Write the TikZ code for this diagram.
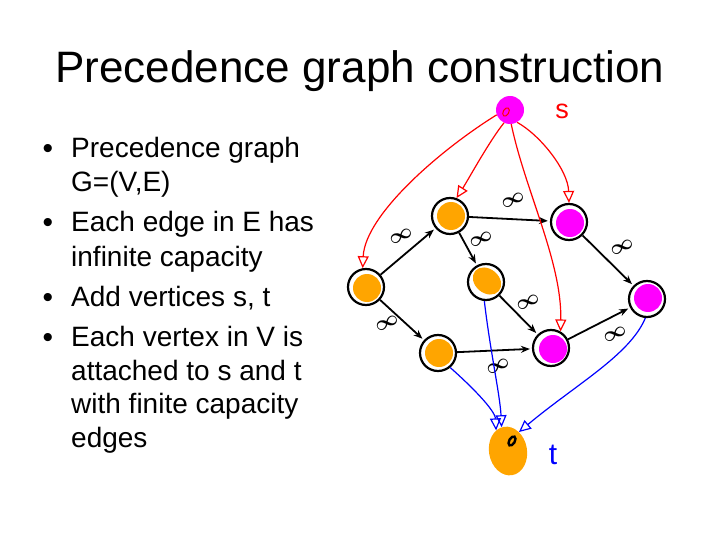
\documentclass[tikz,border=0pt]{standalone}
\usepackage{fontspec}
\setmainfont{Liberation Sans}
\usetikzlibrary{arrows.meta,shapes.geometric}
\definecolor{vorange}{RGB}{255,165,0}
\definecolor{vmag}{RGB}{255,0,255}
\definecolor{vred}{RGB}{255,0,0}
\definecolor{vblue}{RGB}{0,0,255}
\tikzset{
  vert/.style={circle,draw=black,line width=2.2pt,fill=white,minimum size=36pt,inner sep=0pt},
  blobo/.style={fill=vorange},
  blobm/.style={fill=vmag},
  edge/.style={line width=1.8pt,-{Stealth[length=9pt,width=7pt]},shorten >=2pt},
  inf/.style={font=\fontsize{21}{21}\selectfont\boldmath,inner sep=0pt,rotate=25},
  sarc/.style={vred,line width=1.2pt,-{Triangle[open,length=12pt,width=11pt,line width=1.2pt]}},
  tarc/.style={vblue,line width=1.2pt,-{Triangle[open,length=12pt,width=11pt,line width=1.2pt]}},
  bul/.style={anchor=base west,inner sep=0pt,font=\fontsize{28}{28}\selectfont},
  dot/.style={anchor=base,inner sep=0pt,font=\fontsize{30}{30}\selectfont}
}
\begin{document}
\begin{tikzpicture}[x=1pt,y=-1pt]
\useasboundingbox (0,0) rectangle (720,540);
\fill[white] (0,0) rectangle (720,540);
% title
\node[anchor=base,inner sep=0pt,font=\fontsize{44}{44}\selectfont] (title) at (360,83) {Precedence graph construction};
% bullets
\node[dot] (b1) at (48,159) {•};
\node[bul] (l1) at (71,158) {Precedence graph};
\node[bul] (l2) at (71,192) {G=(V,E)};
\node[dot] (b2) at (48,233) {•};
\node[bul] (l3) at (71,232) {Each edge in E has};
\node[bul] (l4) at (71,266) {infinite capacity};
\node[dot] (b3) at (48,307) {•};
\node[bul] (l5) at (71,306) {Add vertices s, t};
\node[dot] (b4) at (48,347) {•};
\node[bul] (l6) at (71,346) {Each vertex in V is};
\node[bul] (l7) at (71,380) {attached to s and t};
\node[bul] (l8) at (71,413) {with finite capacity};
\node[bul] (l9) at (71,447) {edges};
% vertices
\node[vert] (A) at (366,287) {};
\node[vert] (B) at (450,216) {};
\node[vert] (C) at (486,282) {};
\node[vert] (D) at (438,353) {};
\node[vert] (E) at (569,222) {};
\node[vert] (F) at (551,348) {};
\node[vert] (G) at (647,299) {};
\fill[blobo] (367,288) circle (14);
\fill[blobo] (451,216) circle (14);
\fill[blobo,rotate around={-40:(487,281)}] (487,281) ellipse (15.5 and 12);
\fill[blobo] (439,353) circle (14);
\fill[blobm] (570,223) circle (14);
\fill[blobm] (553,349) circle (14);
\fill[blobm] (648,298) circle (14);
% s and t blobs
\node[circle,fill=vmag,minimum size=28pt,inner sep=0pt] (s) at (510,110) {};
\node[ellipse,fill=vorange,minimum width=38pt,minimum height=49pt,inner sep=0pt,rotate=10] (t) at (508,451) {};
\draw[vred,line width=1pt,rotate around={60:(506,112)}] (506,112) ellipse (4.5 and 2.8);
\draw[black,line width=2.4pt,rotate around={60:(512,441)}] (512,441) ellipse (5 and 2.8);
% labels s, t
\node[vred,font=\fontsize{27}{27}\selectfont,inner sep=0pt] (slab) at (562,111) {s};
\node[vblue,font=\fontsize{30}{30}\selectfont,inner sep=0pt] (tlab) at (553,455) {t};
% black edges
\draw[edge] (A) -- (B);
\draw[edge] (B) -- (E);
\draw[edge] (B) -- (C);
\draw[edge] (E) -- (G);
\draw[edge] (A) -- (D);
\draw[edge] (D) -- (F);
\draw[edge] (C) -- (F);
\draw[edge] (F) -- (G);
% infinity labels
\node[inf] (i1) at (401,236) {$\infty$};
\node[inf] (i2) at (481,239) {$\infty$};
\node[inf] (i3) at (513,200) {$\infty$};
\node[inf] (i4) at (622,247) {$\infty$};
\node[inf] (i5) at (528,302) {$\infty$};
\node[inf] (i6) at (387,323) {$\infty$};
\node[inf] (i7) at (498,366) {$\infty$};
\node[inf] (i8) at (615,334) {$\infty$};
% red arcs from s
\draw[sarc] (s.200) .. controls (440,150) and (365,215) .. (A.100);
\draw[sarc] (s.245) .. controls (490,140) and (468,180) .. (B.70);
\draw[sarc] (s.300) .. controls (540,135) and (568,170) .. (E.90);
\draw[sarc] (s.275) .. controls (525,190) and (562,262) .. (F.60);
% blue arcs to t
\draw[tarc] (C.265) .. controls (490,350) and (500,395) .. (t.95);
\draw[tarc] (D.-50) .. controls (470,385) and (495,410) .. (t.110);
\draw[tarc] (G.265) .. controls (630,355) and (575,385) .. (t.50);
\end{tikzpicture}
\end{document}
